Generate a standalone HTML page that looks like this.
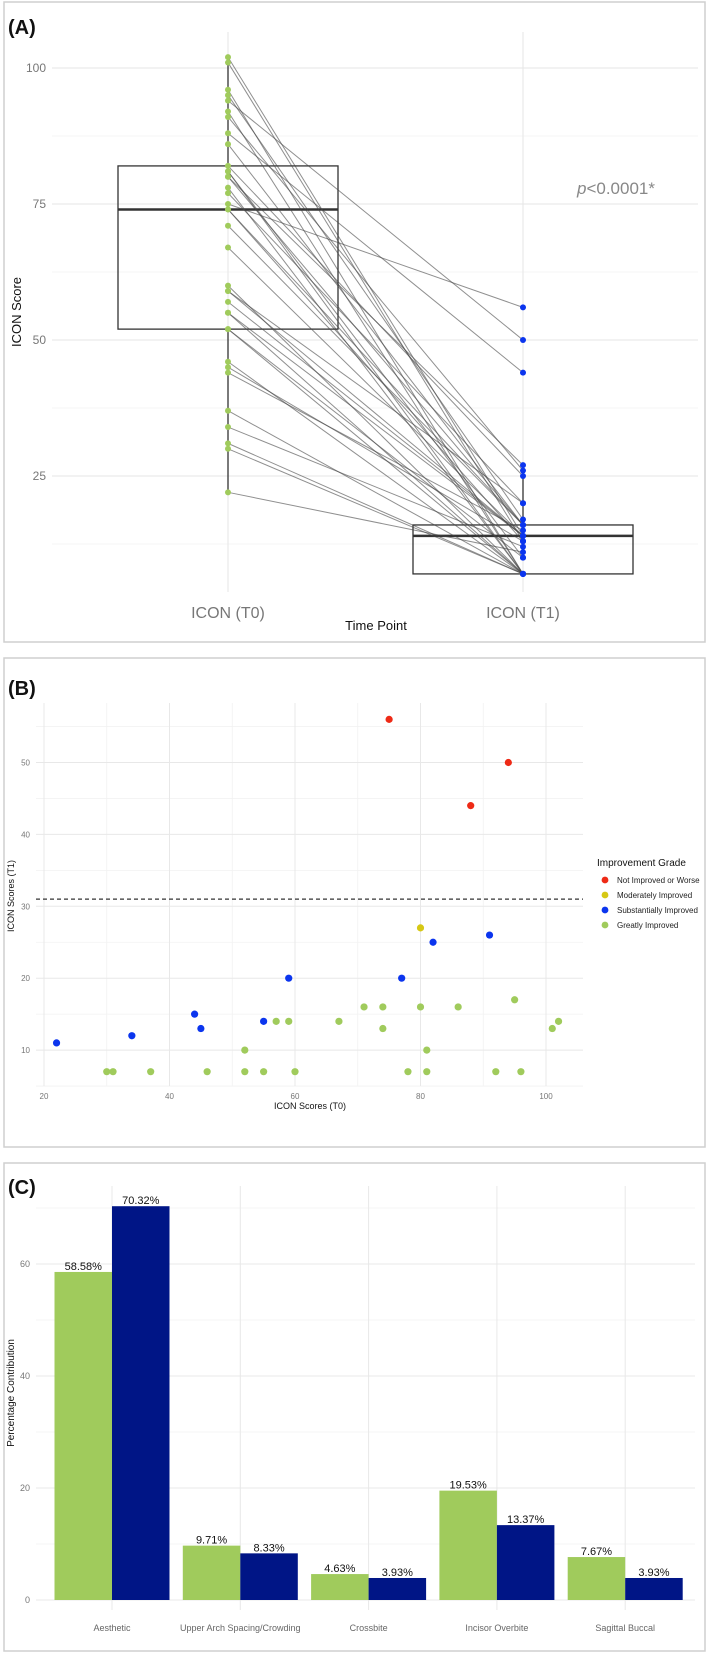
<!DOCTYPE html>
<html><head><meta charset="utf-8">
<style>
body{margin:0;background:#fff;}
svg{display:block;font-family:"Liberation Sans",sans-serif;}
</style></head>
<body>
<svg id="fig" width="709" height="1653" viewBox="0 0 709 1653">
  <rect x="4" y="2" width="701" height="640" fill="#fff" stroke="#cfcfcf" stroke-width="1.5"/>
  <rect x="4" y="658" width="701" height="489" fill="#fff" stroke="#cfcfcf" stroke-width="1.5"/>
  <rect x="4" y="1163" width="701" height="488" fill="#fff" stroke="#cfcfcf" stroke-width="1.5"/>
  <g id="gA"></g>
  <g id="gB"></g>
  <g id="gC"></g>
</svg>
<script>
// Patient paired scores (T0, T1) and grades
const t0Scores = [75,94,88,80,22,34,44,45,55,59,77,82,91,30,31,37,46,52,52,55,57,59,60,67,71,74,74,80,86,95,78,81,81,92,96,101,102];
const t1Scores = [56,50,44,27,11,12,15,13,14,20,20,25,26,7,7,7,7,10,7,7,14,14,7,14,16,16,13,16,16,17,7,10,7,7,7,13,14];
const grades   = ['N','N','N','M','S','S','S','S','S','S','S','S','S','G','G','G','G','G','G','G','G','G','G','G','G','G','G','G','G','G','G','G','G','G','G','G','G'];
const boxT0 = [22,52,74,82,102];
const boxT1 = [7,7,14,16,27];
const yTicksA = [25,50,75,100];
const xTicksB = [20,40,60,80,100];
const yTicksB = [10,20,30,40,50];
const threshold = 31;
const categories = ['Aesthetic','Upper Arch Spacing/Crowding','Crossbite','Incisor Overbite','Sagittal Buccal'];
const seriesT0 = [58.58,9.71,4.63,19.53,7.67];
const seriesT1 = [70.32,8.33,3.93,13.37,3.93];
const yTicksC = [0,20,40,60];

const NS='http://www.w3.org/2000/svg';
function mk(parent,tag,attrs,text){const e=document.createElementNS(NS,tag);for(const k in attrs)e.setAttribute(k,attrs[k]);if(text!==undefined)e.textContent=text;parent.appendChild(e);return e;}
const colors={N:'#ee2a16',M:'#d6c814',S:'#0b35ee',G:'#a0cb5c'};

// ---------- Panel A ----------
const gA=document.getElementById('gA');
const yA=v=>68+(100-v)*5.44;
const xT0=228,xT1=523;
let t=mk(gA,'text',{x:8,y:34,'font-size':20,'font-weight':'bold',fill:'#111'},'(A)');

[12.5,37.5,62.5,87.5].forEach(v=>{const l=mk(gA,'line',{x1:52,x2:698,y1:yA(v),y2:yA(v),stroke:'#f0f0f0','stroke-width':0.8});});
yTicksA.forEach(v=>{const l=mk(gA,'line',{x1:52,x2:698,y1:yA(v),y2:yA(v),stroke:'#e6e6e6','stroke-width':1});
 const tx=mk(gA,'text',{x:46,y:yA(v)+4,'font-size':12,fill:'#777','text-anchor':'end'},String(v));});
[xT0,xT1].forEach(x=>{const l=mk(gA,'line',{x1:x,x2:x,y1:32,y2:592,stroke:'#e6e6e6','stroke-width':1});});
function box(stats,cx,name){const g=mk(gA,'g',{});
 mk(g,'line',{x1:cx,x2:cx,y1:yA(stats[0]),y2:yA(stats[1]),stroke:'#333','stroke-width':1.3});
 mk(g,'line',{x1:cx,x2:cx,y1:yA(stats[3]),y2:yA(stats[4]),stroke:'#333','stroke-width':1.3});
 mk(g,'rect',{x:cx-110,y:yA(stats[3]),width:220,height:yA(stats[1])-yA(stats[3]),fill:'none',stroke:'#333','stroke-width':1.3});
 mk(g,'line',{x1:cx-110,x2:cx+110,y1:yA(stats[2]),y2:yA(stats[2]),stroke:'#333','stroke-width':2.5});}
box(boxT0,xT0,'boxplot-t0');box(boxT1,xT1,'boxplot-t1');
t0Scores.forEach((v,i)=>{const l=mk(gA,'line',{x1:xT0,y1:yA(v),x2:xT1,y2:yA(t1Scores[i]),stroke:'#444','stroke-opacity':0.6,'stroke-width':1});});
t0Scores.forEach(v=>{const c=mk(gA,'circle',{cx:xT0,cy:yA(v),r:3,fill:'#a0cb5c'});});
t1Scores.forEach(v=>{const c=mk(gA,'circle',{cx:xT1,cy:yA(v),r:3,fill:'#0b35ee'});});
t=mk(gA,'text',{x:616,y:194,'font-size':17,fill:'#888','text-anchor':'middle'});
mk(t,'tspan',{'font-style':'italic'},'p');mk(t,'tspan',{},'<0.0001*');
t=mk(gA,'text',{x:xT0,y:618,'font-size':16,fill:'#777','text-anchor':'middle'},'ICON (T0)');
t=mk(gA,'text',{x:xT1,y:618,'font-size':16,fill:'#777','text-anchor':'middle'},'ICON (T1)');
t=mk(gA,'text',{x:376,y:630,'font-size':13,fill:'#111','text-anchor':'middle'},'Time Point');
t=mk(gA,'text',{x:0,y:0,'font-size':13,fill:'#111','text-anchor':'middle',transform:'translate(21,312) rotate(-90)'},'ICON Score');

// ---------- Panel B ----------
const gB=document.getElementById('gB');
const xB=v=>44+(v-20)*6.275;
const yB=v=>762.5+(50-v)*7.19;
t=mk(gB,'text',{x:8,y:695,'font-size':20,'font-weight':'bold',fill:'#111'},'(B)');
[5,15,25,35,45,55].forEach(v=>{const l=mk(gB,'line',{x1:36,x2:583,y1:yB(v),y2:yB(v),stroke:'#f2f2f2','stroke-width':0.8});});
[30,50,70,90].forEach(v=>{const l=mk(gB,'line',{x1:xB(v),x2:xB(v),y1:703,y2:1086,stroke:'#f2f2f2','stroke-width':0.8});});
yTicksB.forEach(v=>{const l=mk(gB,'line',{x1:36,x2:583,y1:yB(v),y2:yB(v),stroke:'#e8e8e8','stroke-width':1});
 const tx=mk(gB,'text',{x:30,y:yB(v)+3,'font-size':8,fill:'#777','text-anchor':'end'},String(v));});
xTicksB.forEach(v=>{const l=mk(gB,'line',{x1:xB(v),x2:xB(v),y1:703,y2:1086,stroke:'#e8e8e8','stroke-width':1});
 const tx=mk(gB,'text',{x:xB(v),y:1099,'font-size':8,fill:'#777','text-anchor':'middle'},String(v));});
t=mk(gB,'line',{x1:36,x2:583,y1:yB(threshold),y2:yB(threshold),stroke:'#333','stroke-width':1.2,'stroke-dasharray':'4,3'});
t0Scores.forEach((v,i)=>{const c=mk(gB,'circle',{cx:xB(v),cy:yB(t1Scores[i]),r:3.6,fill:colors[grades[i]]});});
t=mk(gB,'text',{x:310,y:1109,'font-size':9,fill:'#111','text-anchor':'middle'},'ICON Scores (T0)');
t=mk(gB,'text',{x:0,y:0,'font-size':9,fill:'#111','text-anchor':'middle',transform:'translate(14,896) rotate(-90)'},'ICON Scores (T1)');
const lg=mk(gB,'g',{});
mk(lg,'text',{x:597,y:866,'font-size':10,fill:'#111'},'Improvement Grade');
const legLabels=['Not Improved or Worse','Moderately Improved','Substantially Improved','Greatly Improved'];
['N','M','S','G'].forEach((k,i)=>{const e=mk(lg,'g',{});
 mk(e,'circle',{cx:605,cy:880+i*15,r:3.4,fill:colors[k]});
 mk(e,'text',{x:617,y:883+i*15,'font-size':8,fill:'#222'},legLabels[i]);});

// ---------- Panel C ----------
const gC=document.getElementById('gC');
const yC=v=>1600-v*5.6;
const xC=i=>112+i*128.3;
const bw=57.5;
t=mk(gC,'text',{x:8,y:1194,'font-size':20,'font-weight':'bold',fill:'#111'},'(C)');
[10,30,50,70].forEach(v=>{const l=mk(gC,'line',{x1:36,x2:695,y1:yC(v),y2:yC(v),stroke:'#f2f2f2','stroke-width':0.8});});
yTicksC.forEach(v=>{const l=mk(gC,'line',{x1:36,x2:695,y1:yC(v),y2:yC(v),stroke:'#e8e8e8','stroke-width':1});
 const tx=mk(gC,'text',{x:30,y:yC(v)+3,'font-size':9,fill:'#777','text-anchor':'end'},String(v));});
categories.forEach((c,i)=>{const l=mk(gC,'line',{x1:xC(i),x2:xC(i),y1:1186,y2:1610,stroke:'#e8e8e8','stroke-width':1});
 const tx=mk(gC,'text',{x:xC(i),y:1631,'font-size':9,fill:'#666','text-anchor':'middle'},c);});
categories.forEach((c,i)=>{
 const b0=mk(gC,'rect',{x:xC(i)-bw,y:yC(seriesT0[i]),width:bw,height:yC(0)-yC(seriesT0[i]),fill:'#a0cb5c'});
 const b1=mk(gC,'rect',{x:xC(i),y:yC(seriesT1[i]),width:bw,height:yC(0)-yC(seriesT1[i]),fill:'#001586'});
 const l0=mk(gC,'text',{x:xC(i)-bw/2,y:yC(seriesT0[i])-2,'font-size':11,fill:'#111','text-anchor':'middle'},seriesT0[i].toFixed(2)+'%');
 const l1=mk(gC,'text',{x:xC(i)+bw/2,y:yC(seriesT1[i])-2,'font-size':11,fill:'#111','text-anchor':'middle'},seriesT1[i].toFixed(2)+'%');
});
t=mk(gC,'text',{x:0,y:0,'font-size':10,fill:'#111','text-anchor':'middle',transform:'translate(14,1393) rotate(-90)'},'Percentage Contribution');
</script>
</body></html>
